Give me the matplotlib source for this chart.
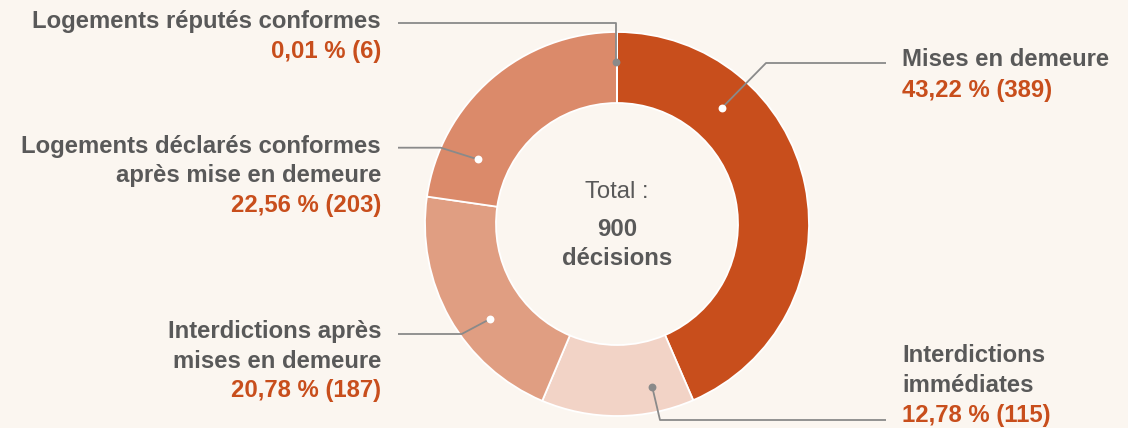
import numpy as np
import matplotlib
matplotlib.use("Agg")
import matplotlib.pyplot as plt

# ---- data ----
categories = ["Mises en demeure", "Interdictions immédiates",
              "Interdictions après mises en demeure",
              "Logements déclarés conformes après mise en demeure",
              "Logements réputés conformes"]
percents = [43.22, 12.78, 20.78, 22.56, 0.01]
counts = [389, 115, 187, 203, 6]
title_lines = [["Mises en demeure"],
               ["Interdictions", "immédiates"],
               ["Interdictions après", "mises en demeure"],
               ["Logements déclarés conformes", "après mise en demeure"],
               ["Logements réputés conformes"]]
total = 900

# ---- style ----
BG = "#FBF6F0"
colors = ["#C84E1C", "#F2D3C6", "#E09E82", "#DB8A6A", "#8C8C8C"]
TXT = "#595959"
VAL = "#C84E1C"
LINE = "#8A8A8A"
FONT = ["Liberation Sans", "DejaVu Sans"]
FS = 17.2

W, H = 1128, 428
fig = plt.figure(figsize=(W / 100, H / 100), dpi=100, facecolor=BG)
ax = fig.add_axes([0, 0, 1, 1])
ax.set_facecolor(BG)

cx, cy, R, ring = 617, H - 224, 192, 71

wedges, _ = ax.pie(percents, colors=colors, startangle=90, counterclock=False,
                   center=(cx, cy), radius=R, frame=True,
                   wedgeprops=dict(width=ring, edgecolor="white", linewidth=1.3))
ax.set_xlim(0, W)
ax.set_ylim(0, H)
ax.set_aspect("equal")
ax.axis("off")

def img(y):
    return H - y

# label layout: dot angle (clockwise from top), dot radius, dot colour,
# elbow point, line start, text x, alignment, baselines (image y)
layout = [
    dict(ang=42.1, r=156, dc="white", elbow=(766, 63), start=(886, 63),
         tx=902, ha="left", base=[66, 96.7]),
    dict(ang=167.8, r=166.5, dc=LINE, elbow=(660, 420), start=(886, 420),
         tx=902, ha="left", base=[361.7, 391.7, 421.7]),
    dict(ang=233.2, r=158.6, dc="white", elbow=(461.7, 334), start=(398, 334),
         tx=381, ha="right", base=[338.3, 367.5, 396.7]),
    dict(ang=294.9, r=153.6, dc="white", elbow=(440.7, 147.7), start=(398, 147.7),
         tx=381, ha="right", base=[152.5, 181.7, 211.5]),
    dict(ang=-0.4, r=162, dc=LINE, elbow=(615.5, 23.3), start=(398, 23.3),
         tx=381, ha="right", base=[28.3, 58.3]),
]

for i, L in enumerate(layout):
    a = np.deg2rad(L["ang"])
    dx = cx + L["r"] * np.sin(a)
    dy = cy + L["r"] * np.cos(a)
    ex, ey = L["elbow"][0], img(L["elbow"][1])
    if i == 4:
        dx = ex
    sx, sy = L["start"][0], img(L["start"][1])
    ax.plot([sx, ex, dx], [sy, ey, dy], color=LINE, lw=1.3,
            solid_capstyle="butt", zorder=5)
    ax.scatter([dx], [dy], s=32, color=L["dc"], zorder=6, linewidths=0)

    lines = title_lines[i]
    for j, t in enumerate(lines):
        ax.text(L["tx"], img(L["base"][j]), t, ha=L["ha"], va="baseline",
                fontsize=FS, fontweight="bold", color=TXT, family=FONT)
    pct = f"{percents[i]:.2f}".replace(".", ",")
    ax.text(L["tx"], img(L["base"][len(lines)]), f"{pct} % ({counts[i]})",
            ha=L["ha"], va="baseline", fontsize=FS, fontweight="bold",
            color=VAL, family=FONT)

# centre text
ax.text(cx, img(198), "Total :", ha="center", va="baseline", fontsize=FS,
        color=TXT, family=FONT)
ax.text(cx, img(236), f"{total}", ha="center", va="baseline", fontsize=FS,
        fontweight="bold", color=TXT, family=FONT)
ax.text(cx, img(265), "décisions", ha="center", va="baseline", fontsize=FS,
        fontweight="bold", color=TXT, family=FONT)

fig.savefig("out.png", dpi=100, facecolor=BG)
